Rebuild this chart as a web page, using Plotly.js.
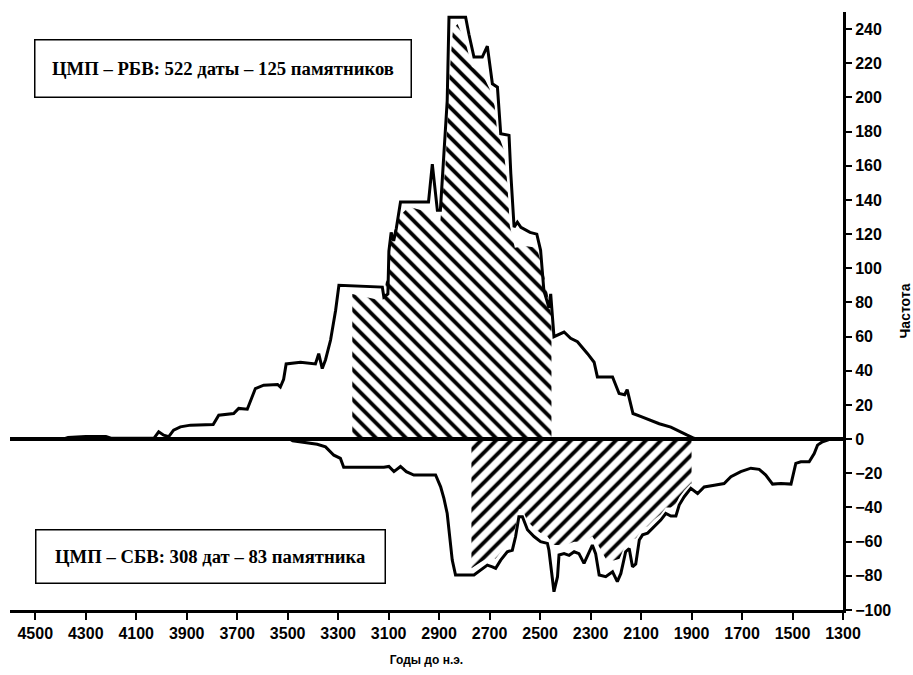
<!DOCTYPE html>
<html>
<head>
<meta charset="utf-8">
<script src="https://cdn.plot.ly/plotly-3.0.1.min.js"></script>
<style>html,body{margin:0;padding:0;background:#fff;}#chart{width:913px;height:675px;}</style>
</head>
<body>
<div id="chart"></div>
<script>
// X tick labels (years BC)
const xTicks = [4500, 4300, 4100, 3900, 3700, 3500, 3300, 3100, 2900, 2700, 2500, 2300, 2100, 1900, 1700, 1500, 1300];

// Upper curve: ЦМП – РБВ
const upYears = [4600, 4390, 4370, 4300, 4220, 4200, 4030, 4011, 3991, 3971, 3952, 3925, 3885, 3795, 3773, 3714, 3694, 3660, 3641, 3628, 3595, 3540, 3529, 3516, 3506, 3449, 3390, 3377, 3363, 3350, 3330, 3310, 3297, 3125, 3119, 3103, 3099, 3090, 3080, 3070, 3053, 2942, 2927, 2914, 2907, 2895, 2868, 2861, 2795, 2782, 2762, 2729, 2709, 2689, 2669, 2656, 2623, 2616, 2603, 2590, 2576, 2540, 2513, 2498, 2485, 2465, 2458, 2445, 2405, 2379, 2352, 2312, 2286, 2273, 2213, 2187, 2165, 2155, 2140, 2132, 2097, 2060, 2028, 1982, 1947, 1917, 1890, 1878, 1300];
const upVals  = [0, 0, 1, 1.5, 1.5, 0.5, 0.5, 4.3, 2.3, 1.5, 5.3, 7.2, 8.2, 8.6, 14, 15, 18, 17.5, 24.7, 29.6, 31.6, 32, 30.5, 35, 44, 45, 44, 50, 41.3, 46.5, 58, 75.4, 90, 89, 83.2, 85, 110, 121, 116, 123, 138.8, 138.8, 161, 145.6, 134, 134, 198, 247, 247, 237, 223.6, 223.6, 230, 208, 206, 178.8, 177.8, 155.5, 124, 127, 124, 121, 120, 110.5, 87, 77, 85, 60, 62.7, 59, 57, 50, 45, 36.4, 36.4, 26.7, 26, 29, 20, 15, 13, 11, 9, 7, 4.3, 2.3, 0.5, 0, 0];

// Lower curve: ЦМП – СБВ
const lowYears = [4600, 3490, 3480, 3383, 3350, 3317, 3291, 3278, 3119, 3099, 3079, 3053, 3030, 3000, 2914, 2894, 2881, 2868, 2848, 2835, 2762, 2736, 2709, 2689, 2676, 2656, 2630, 2610, 2597, 2584, 2570, 2550, 2524, 2498, 2471, 2465, 2451, 2445, 2431, 2425, 2405, 2385, 2365, 2346, 2326, 2306, 2293, 2280, 2266, 2240, 2213, 2194, 2180, 2161, 2147, 2134, 2121, 2107, 2094, 2074, 2048, 2022, 2002, 1982, 1962, 1949, 1929, 1903, 1876, 1850, 1810, 1771, 1744, 1705, 1665, 1632, 1606, 1579, 1546, 1506, 1487, 1467, 1434, 1414, 1401, 1381, 1361, 1350, 1300];
const lowVals  = [0, 0, -1, -3, -4.5, -9.4, -11.3, -16.5, -16.5, -16, -19, -16, -19, -21, -21, -27.9, -34.7, -43.5, -70.8, -79.5, -79.5, -76.6, -73.7, -74.7, -75.6, -70.8, -65.9, -65, -57, -45.4, -45.4, -53, -57, -60, -61, -65, -80.5, -89.3, -80.5, -67.8, -67, -68, -65.9, -67, -72.7, -65.9, -62, -67, -79.5, -80.5, -77.6, -83.4, -78.6, -65.9, -64, -74.7, -73, -59, -56, -55, -51.3, -47.4, -43.5, -45, -45, -38.6, -33.7, -28.8, -31.8, -28, -27, -26, -22, -19, -17, -17.7, -21, -26.3, -26, -26.3, -14.2, -13.3, -13.3, -8.4, -3.5, -1.5, -0.5, 0, 0];

// Hatched areas
const hatchUpYears = [3244, 3125, 3100, 3092, 3060, 3020, 2945, 2930, 2895, 2875, 2858, 2845, 2827, 2795, 2770, 2729, 2700, 2680, 2670, 2645, 2630, 2620, 2600, 2560, 2513, 2490, 2470, 2455];
const hatchUpVals  = [85, 81, 100, 115, 130, 136, 133, 128, 128, 160, 215, 240, 243, 232, 218, 214, 205, 195, 180, 170, 150, 125, 112, 113, 112, 100, 85, 72];
const hatchLowYears = [2772, 2736, 2700, 2676, 2656, 2630, 2610, 2597, 2584, 2570, 2550, 2524, 2498, 2471, 2445, 2400, 2365, 2330, 2293, 2270, 2240, 2208, 2185, 2160, 2147, 2120, 2107, 2094, 2074, 2048, 2022, 2002, 1982, 1962, 1949, 1929, 1903, 1900];
const hatchLowVals  = [-75.6, -72, -69, -70, -66, -61, -58, -51, -41, -41, -48, -52, -55, -57, -62, -62, -60, -60, -57, -62, -70, -71, -70, -61, -59, -58, -55, -52, -51, -47, -44, -40, -40, -38, -34, -30, -26, -26];

const labelUp = 'ЦМП – РБВ: 522 даты – 125 памятников';
const labelLow = 'ЦМП – СБВ: 308 дат – 83 памятника';

const traces = [
  {x: hatchUpYears, y: hatchUpVals, type: 'scatter', mode: 'lines', line: {width: 0, color: 'rgba(0,0,0,0)'},
   fill: 'tozeroy', fillcolor: 'rgba(255,255,255,0)',
   fillpattern: {shape: '\\', size: 10.6, solidity: 0.36, fgcolor: '#000', bgcolor: 'rgba(255,255,255,0)'},
   hoverinfo: 'skip', showlegend: false},
  {x: hatchLowYears, y: hatchLowVals, type: 'scatter', mode: 'lines', line: {width: 0, color: 'rgba(0,0,0,0)'},
   fill: 'tozeroy', fillcolor: 'rgba(255,255,255,0)',
   fillpattern: {shape: '/', size: 10.6, solidity: 0.36, fgcolor: '#000', bgcolor: 'rgba(255,255,255,0)'},
   hoverinfo: 'skip', showlegend: false},
  {x: upYears, y: upVals, type: 'scatter', mode: 'lines', line: {color: '#000', width: 3}, showlegend: false},
  {x: lowYears, y: lowVals, type: 'scatter', mode: 'lines', line: {color: '#000', width: 3}, showlegend: false}
];

const tickFont = {family: 'Liberation Sans, Arial, sans-serif', size: 16, color: '#000', weight: 'bold'};
const boxFont = {family: 'Liberation Serif, Times New Roman, serif', size: 18.7, color: '#000', weight: 'bold'};

const layout = {
  width: 913, height: 675,
  margin: {l: 10, r: 70, t: 12, b: 65},
  paper_bgcolor: '#fff', plot_bgcolor: '#fff',
  showlegend: false,
  xaxis: {
    range: [4600, 1300], tickvals: xTicks, ticktext: xTicks.map(String),
    showgrid: false, zeroline: false, showline: true, linecolor: '#000', linewidth: 3,
    ticks: 'outside', ticklen: 7, tickwidth: 2, tickcolor: '#000',
    tickfont: tickFont,
    title: {text: 'Годы до н.э.', font: {family: 'Liberation Sans, Arial, sans-serif', size: 12, color: '#000', weight: 'bold'}, standoff: 15}
  },
  yaxis: {
    range: [-100, 250], side: 'right', dtick: 20, tick0: 0,
    showgrid: false, zeroline: true, zerolinecolor: '#000', zerolinewidth: 4,
    showline: true, linecolor: '#000', linewidth: 3,
    ticks: 'outside', ticklen: 6, tickwidth: 2, tickcolor: '#000',
    tickfont: tickFont,
    title: {text: 'Частота', font: {family: 'Liberation Sans, Arial, sans-serif', size: 14, color: '#000', weight: 'bold'}, standoff: 10}
  },
  annotations: [
    {xref: 'paper', yref: 'paper', x: 0.2563, y: 0.9047, xanchor: 'center', yanchor: 'middle',
     text: labelUp, showarrow: false, font: boxFont, width: 375, height: 56,
     bordercolor: '#000', borderwidth: 1.5, borderpad: 0, bgcolor: '#fff'},
    {xref: 'paper', yref: 'paper', x: 0.2401, y: 0.0903, xanchor: 'center', yanchor: 'middle',
     text: labelLow, showarrow: false, font: boxFont, width: 348, height: 52,
     bordercolor: '#000', borderwidth: 1.5, borderpad: 0, bgcolor: '#fff'}
  ]
};

Plotly.newPlot('chart', traces, layout, {staticPlot: true, displayModeBar: false});
</script>
</body>
</html>
